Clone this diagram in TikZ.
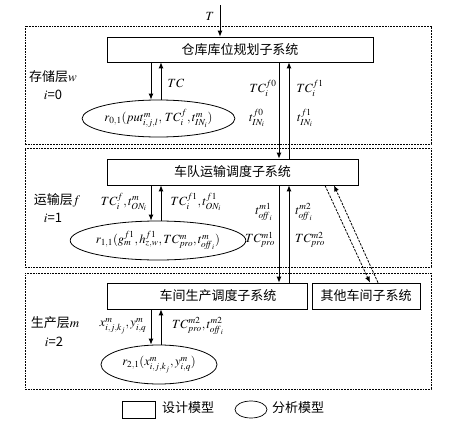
\documentclass[tikz,border=0pt]{standalone}
\usepackage{mathptmx}
\usepackage{fontspec}
\setmainfont{Liberation Serif}
\newfontfamily\cjk{Noto Sans CJK SC}
\usetikzlibrary{arrows.meta,shapes.geometric,calc}
\newcommand{\offi}{\mathit{off}_{i}}
\begin{document}
\begin{tikzpicture}[x=1pt,y=-1pt,
  sysbox/.style={draw,line width=0.7pt,minimum height=25pt,inner sep=0pt,font=\cjk\fontsize{13}{15}\selectfont},
  anaell/.style={draw,ellipse,line width=0.8pt,inner sep=0pt,font=\fontsize{12.5}{14}\selectfont},
  layer/.style={draw,line width=0.8pt,dash pattern=on 1.8pt off 1pt},
  arr/.style={line width=0.9pt,-{Latex[length=6pt,width=5pt]}},
  dsharr/.style={line width=0.8pt,dash pattern=on 2.5pt off 1.2pt,-{Latex[length=6pt,width=5pt]}},
  lbl/.style={inner sep=0pt,font=\fontsize{12.5}{14}\selectfont},
  lay/.style={inner sep=0pt,font=\cjk\fontsize{13}{15}\selectfont}]
\useasboundingbox (0,0) rectangle (472,434);
% layers
\node[layer,minimum width=406pt,minimum height=118pt,inner sep=0pt] (L1) at (228,85) {};
\node[layer,minimum width=406pt,minimum height=119pt,inner sep=0pt] (L2) at (228,207.5) {};
\node[layer,minimum width=406pt,minimum height=116pt,inner sep=0pt] (L3) at (228,331) {};
% system boxes
\node[sysbox,minimum width=266pt] (b1) at (240,49.5) {仓库库位规划子系统};
\node[sysbox,minimum width=251pt,minimum height=26pt] (b2) at (232.5,172) {车队运输调度子系统};
\node[sysbox,minimum width=200pt,minimum height=26pt] (b3) at (207,296) {\hspace*{22pt}车间生产调度子系统};
\node[sysbox,minimum width=108pt,minimum height=26pt] (b4) at (366,296) {其他车间子系统};
% ellipses
\node[anaell,minimum width=117pt,minimum height=37pt] (e1) at (158.5,118.5) {$r_{0,1}(put^{m}_{i,j,l},\,TC^{f}_{i},t^{m}_{IN_i})$};
\node[anaell,minimum width=137pt,minimum height=39pt] (e2) at (158,240.5) {$r_{1,1}(g^{f1}_{m},h^{f1}_{z,w},TC^{m}_{pro},t^{m}_{\offi})$};
\node[anaell,minimum width=116pt,minimum height=39pt] (e3) at (159,364.5) {$r_{2,1}(x^{m}_{i,j,k_j},y^{m}_{i,q})$};
% coordinates
\coordinate (top) at (220,5);
\coordinate (xa) at (151,0);
\coordinate (xb) at (161,0);
\coordinate (xc) at (279,0);
\coordinate (xd) at (289,0);
\coordinate (d1s) at (325,0);
\coordinate (d1e) at (370,0);
\coordinate (d2s) at (378,0);
\coordinate (d2e) at (334,0);
% T arrow
\draw[arr] (top) -- (top |- b1.north);
\node[lbl] (T) at (210,16) {$T$};
% layer 0 local arrows
\draw[arr] (xa |- b1.south) -- (xa |- e1.north);
\draw[arr] (xb |- e1.north) -- (xb |- b1.south);
\node[lbl] (tc) at (176,83) {$TC$};
% between b1 and b2
\draw[arr] (xc |- b1.south) -- (xc |- b2.north);
\draw[arr] (xd |- b2.north) -- (xd |- b1.south);
\node[lbl] (l1) at (263,88) {$TC^{f0}_{i}$};
\node[lbl] (l2) at (257,118) {$t^{f0}_{IN_i}$};
\node[lbl] (l3) at (310,88) {$TC^{f1}_{i}$};
\node[lbl] (l4) at (305,118) {$t^{f1}_{IN_i}$};
% layer 1 local arrows
\draw[arr] (xa |- b2.south) -- (xa |- e2.north);
\draw[arr] (xb |- e2.north) -- (xb |- b2.south);
\node[lbl] (l5) at (124,202) {$TC^{f}_{i},t^{m}_{ON_i}$};
\node[lbl] (l6) at (196,202) {$TC^{f1}_{i},t^{f1}_{ON_i}$};
% between b2 and b3
\draw[arr] (xc |- b2.south) -- (xc |- b3.north);
\draw[arr] (xd |- b3.north) -- (xd |- b2.south);
\node[lbl] (l7) at (264,212) {$t^{m1}_{\offi}$};
\node[lbl] (l8) at (260,240) {$TC^{m1}_{pro}$};
\node[lbl] (l9) at (304,212) {$t^{m2}_{\offi}$};
\node[lbl] (l10) at (310,240) {$TC^{m2}_{pro}$};
% dashed arrows b2 <-> b4
\draw[dsharr] (d1s |- b2.south) -- (d1e |- b4.north);
\draw[dsharr] (d2s |- b4.north) -- (d2e |- b2.south);
% layer 2 local arrows
\draw[arr] (xa |- b3.south) -- (xa |- e3.north);
\draw[arr] (xb |- e3.north) -- (xb |- b3.south);
\node[lbl] (l11) at (123,326) {$x^{m}_{i,j,k_j},y^{m}_{i,q}$};
\node[lbl] (l12) at (198,326) {$TC^{m2}_{pro},t^{m2}_{\offi}$};
% layer labels
\node[lay] (n1) at (53,77) {存储层$w$};
\node[lay] (n1b) at (53,95) {$i$=0};
\node[lay] (n2) at (57,200) {运输层$f$};
\node[lay] (n2b) at (53,218) {$i$=1};
\node[lay] (n3) at (55,323) {生产层$m$};
\node[lay] (n3b) at (54,342) {$i$=2};
% legend
\node[draw,line width=0.7pt,minimum width=33pt,minimum height=17pt,inner sep=0pt] (lg1) at (138.5,409.5) {};
\node[lay,anchor=west] (lg1t) at (162,408) {设计模型};
\node[draw,ellipse,line width=0.7pt,minimum width=32pt,minimum height=17pt,inner sep=0pt] (lg2) at (251,409.5) {};
\node[lay,anchor=west] (lg2t) at (272,408) {分析模型};
\end{tikzpicture}
\end{document}
